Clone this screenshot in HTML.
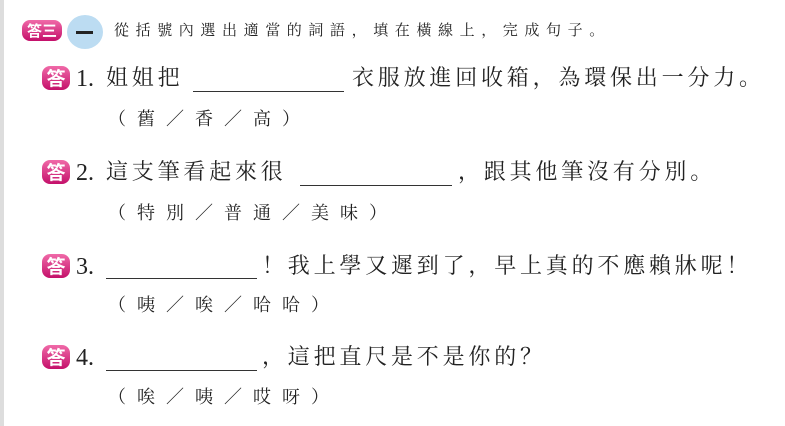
<!DOCTYPE html>
<html><head><meta charset="utf-8"><style>
body{margin:0;width:785px;height:426px;background:#fff;position:relative;overflow:hidden;font-family:"Noto Serif CJK SC","Noto Serif CJK TC","Liberation Serif",serif;color:#222}
.edge{position:absolute;left:0;top:0;width:4px;height:426px;background:#ddd}
.t{position:absolute;white-space:nowrap;font-size:22px;letter-spacing:3.8px;line-height:26px}
.o{position:absolute;white-space:nowrap;font-size:18px;letter-spacing:11px;line-height:22px}
.u{position:absolute;height:0;border-top:1.3px solid #333}
.b{position:absolute;width:28px;height:24px;border-radius:8px;background:linear-gradient(#f06aa8,#c4106a);color:#fff;font-size:19px;line-height:24px;text-align:center;font-family:"Noto Sans CJK TC",sans-serif;font-weight:bold}
.n{position:absolute;font-size:24px;line-height:26px;font-family:"Liberation Serif",serif}
</style></head><body>
<div class="edge"></div>
<div class="b" style="left:22px;top:20px;width:40px;height:21px;font-size:15px;line-height:21px">答三</div>
<div style="position:absolute;left:67px;top:15px;width:36px;height:34px;border-radius:50%;background:#bcdcf2"></div>
<div style="position:absolute;left:76px;top:31px;width:17px;height:3px;background:#222"></div>
<div class="t" style="left:114px;top:20px;font-size:15px;letter-spacing:6.6px;line-height:20px">從括號內選出適當的詞語，填在橫線上，完成句子。</div>

<div class="b" style="left:42px;top:66px">答</div>
<div class="n" style="left:76px;top:66px">1.</div>
<div class="t" style="left:106px;top:64px">姐姐把</div>
<div class="u" style="left:193px;top:91px;width:151px"></div>
<div class="t" style="left:352px;top:64px">衣服放進回收箱，為環保出一分力。</div>
<div class="o" style="left:108px;top:107px">（舊／香／高）</div>

<div class="b" style="left:42px;top:160px">答</div>
<div class="n" style="left:76px;top:160px">2.</div>
<div class="t" style="left:106px;top:158px">這支筆看起來很</div>
<div class="u" style="left:300px;top:185px;width:152px"></div>
<div class="t" style="left:458px;top:158px">，跟其他筆沒有分別。</div>
<div class="o" style="left:108px;top:201px">（特別／普通／美味）</div>

<div class="b" style="left:42px;top:254px">答</div>
<div class="n" style="left:76px;top:254px">3.</div>
<div class="u" style="left:106px;top:278px;width:151px"></div>
<div class="t" style="left:262px;top:252px">！我上學又遲到了，早上真的不應賴牀呢！</div>
<div class="o" style="left:108px;top:293px">（咦／唉／哈哈）</div>

<div class="b" style="left:42px;top:345px">答</div>
<div class="n" style="left:76px;top:345px">4.</div>
<div class="u" style="left:106px;top:370px;width:151px"></div>
<div class="t" style="left:262px;top:343px">，這把直尺是不是你的？</div>
<div class="o" style="left:108px;top:385px">（唉／咦／哎呀）</div>
</body></html>
